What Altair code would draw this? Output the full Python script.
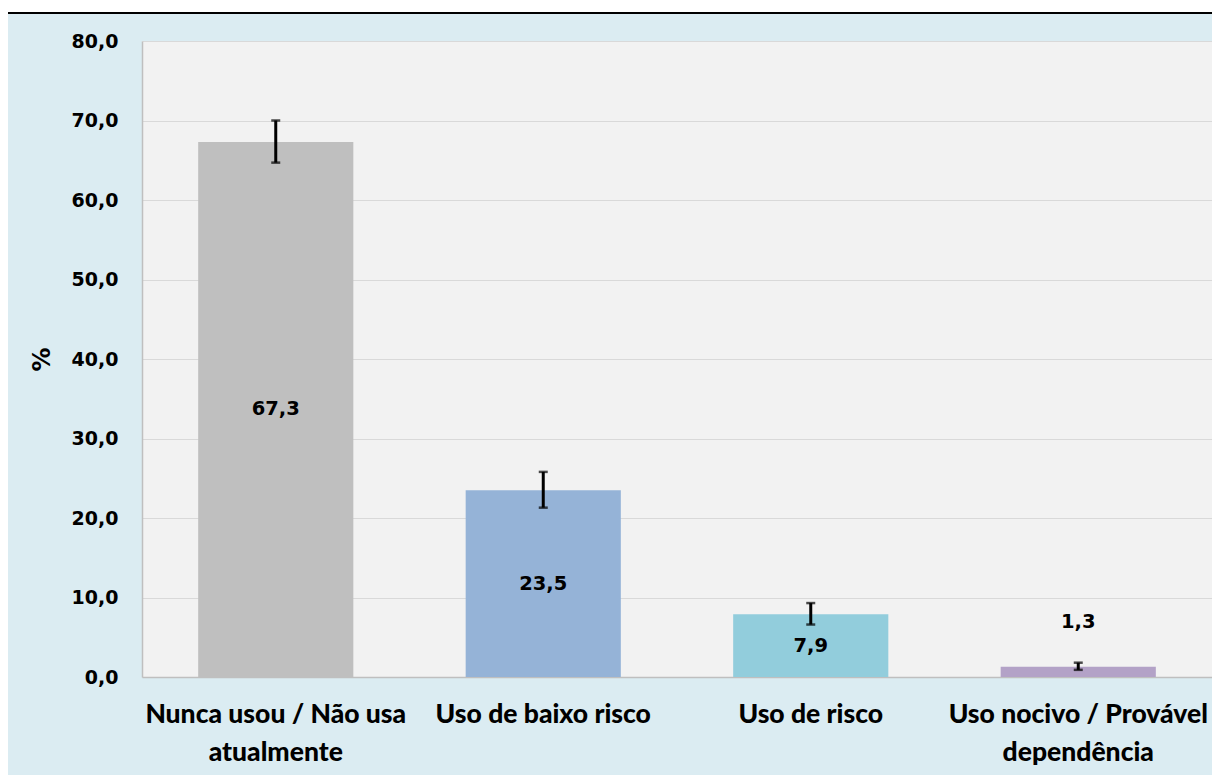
import altair as alt
import pandas as pd

categories = ["Nunca usou / Não usa\natualmente", "Uso de baixo risco", "Uso de risco", "Uso nocivo / Provável\ndependência"]
values = [67.3, 23.5, 7.9, 1.3]
lower = [64.7, 21.3, 6.6, 0.9]
upper = [70.0, 25.8, 9.3, 1.8]
colors = ["#bfbfbf", "#95b3d7", "#92cddc", "#b3a2c7"]
y_ticks = [0, 10, 20, 30, 40, 50, 60, 70, 80]

df = pd.DataFrame({"cat": categories, "value": values, "lo": lower, "hi": upper})

W, H = 1070, 636
xenc = alt.X("cat:N", sort=categories, title=None,
             scale=alt.Scale(paddingInner=0.42, paddingOuter=0.21),
             axis=alt.Axis(labelExpr="split(datum.label, '\\n')", labelAngle=0,
                           labelFont="Lato", labelFontWeight=900, labelFontSize=26.5,
                           labelColor="#000000", labelLineHeight=38, labelPadding=24,
                           labelLimit=0, labelBound=False, labelOverlap=False,
                           ticks=False, domainColor="#bfbfbf", domainWidth=1.5,
                           labelBaseline="top"))

base = alt.Chart(df)

bars = base.mark_bar().encode(
    x=xenc,
    y=alt.Y("value:Q", title="%",
            scale=alt.Scale(domain=[0, 80], nice=False),
            axis=alt.Axis(values=y_ticks,
                          labelExpr="replace(format(datum.value, '.1f'), '.', ',')",
                          labelFont="DejaVu Sans", labelFontWeight="bold", labelFontSize=19,
                          labelColor="#000000", labelPadding=24, ticks=False,
                          domainColor="#bfbfbf", domainWidth=1.5,
                          gridColor="#d9d9d9", gridWidth=1,
                          titleFont="DejaVu Sans", titleFontWeight="bold", titleFontSize=24,
                          titleColor="#000000", titleAngle=-90, titleX=-100, titleY=318,
                          titleBaseline="middle", titleAlign="center")),
    color=alt.Color("cat:N", sort=categories, scale=alt.Scale(domain=categories, range=colors), legend=None),
)

err = base.mark_rule(color="#000000", strokeWidth=3).encode(
    x=alt.X("cat:N", sort=categories), y="lo:Q", y2="hi:Q")
cap_lo = base.mark_tick(color="#000000", thickness=2.5, size=9, orient="horizontal").encode(
    x=alt.X("cat:N", sort=categories), y="lo:Q")
cap_hi = base.mark_tick(color="#000000", thickness=2.5, size=9, orient="horizontal").encode(
    x=alt.X("cat:N", sort=categories), y="hi:Q")

labels = base.transform_calculate(
    ly="datum.value > 5 ? datum.value / 2 : datum.value + 5.6",
    txt="replace(format(datum.value, '.1f'), '.', ',')"
).mark_text(font="DejaVu Sans", fontWeight="bold", fontSize=19.5, color="#000000", baseline="middle").encode(
    x=alt.X("cat:N", sort=categories), y="ly:Q", text="txt:N")

deco = alt.Chart(alt.Data(values=[{"a": 1}]))
white_strip = deco.mark_rect(color="#ffffff").encode(
    x=alt.value(-134), x2=alt.value(1078), y=alt.value(-33), y2=alt.value(-29))
top_line = deco.mark_rule(color="#000000", strokeWidth=2).encode(
    x=alt.value(-134), x2=alt.value(1078), y=alt.value(-28))

chart = alt.layer(white_strip, top_line, bars, err, cap_lo, cap_hi, labels).properties(
    width=W, height=H,
    autosize=alt.AutoSizeParams(type="none"),
    padding={"left": 134, "top": 33, "right": 0, "bottom": 98},
    background="#dbecf2",
).configure_view(fill="#f2f2f2", stroke=None)

chart.save("out.html", embed_options={"renderer": "svg", "actions": False})
